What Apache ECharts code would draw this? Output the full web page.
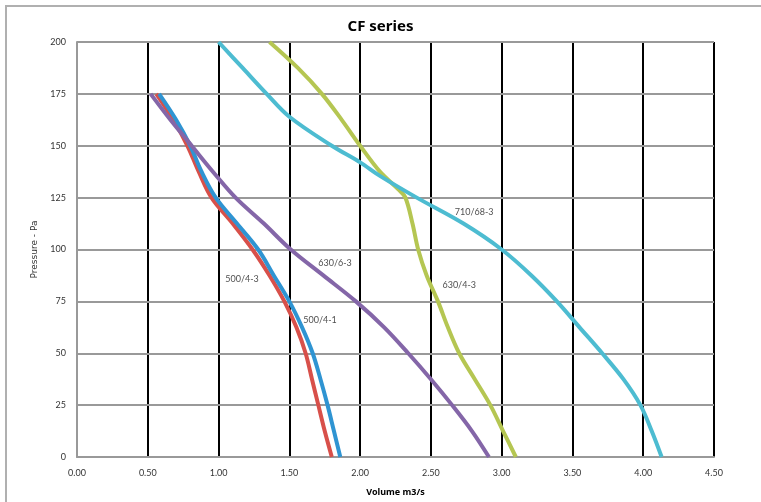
<!DOCTYPE html>
<html>
<head>
<meta charset="utf-8">
<script src="https://cdn.jsdelivr.net/npm/echarts@6/dist/echarts.min.js"></script>
<style>html,body{margin:0;padding:0;background:#fff}#c{width:761px;height:502px}</style>
</head>
<body>
<div id="c"></div>
<script>
// Data: [volume m3/s, pressure Pa]
const s500_4_3 = [[0.56,175],[0.68,162.5],[0.78,150],[0.86,137.5],[0.95,125],[1.10,112.5],[1.24,100],[1.36,87.5],[1.465,75],[1.55,62.5],[1.615,50],[1.66,37.5],[1.705,25],[1.75,12.5],[1.80,0]];
const s500_4_1 = [[0.58,175],[0.70,162.5],[0.80,150],[0.88,137.5],[0.98,125],[1.13,112.5],[1.28,100],[1.39,87.5],[1.50,75],[1.59,62.5],[1.665,50],[1.72,37.5],[1.77,25],[1.815,12.5],[1.86,0]];
const s630_6_3 = [[0.52,175],[0.66,162.5],[0.81,150],[0.96,137.5],[1.12,125],[1.32,112.5],[1.51,100],[1.74,87.5],[1.97,75],[2.17,62.5],[2.34,50],[2.50,37.5],[2.65,25],[2.79,12.5],[2.91,0]];
const s630_4_3 = [[1.36,200],[1.56,187.5],[1.73,175],[1.87,162.5],[2.00,150],[2.14,137.5],[2.27,129],[2.32,125],[2.37,112.5],[2.41,100],[2.47,87.5],[2.55,75],[2.62,62.5],[2.70,50],[2.81,37.5],[2.92,25],[3.01,12.5],[3.10,0]];
const s710_68_3 = [[1.00,200],[1.17,187.5],[1.34,175],[1.50,164],[1.80,150],[2.00,142],[2.14,135.5],[2.40,125],[2.73,112.5],[3.00,100],[3.21,87.5],[3.39,75],[3.55,62.5],[3.71,50],[3.86,37.5],[3.98,25],[4.06,12.5],[4.13,0]];
const seriesNames = ['500/4-3','500/4-1','630/6-3','630/4-3','710/68-3'];
const seriesColors = ['#D8504A','#2F94D2','#8466A8','#B5C652','#4DBCD1'];
const curveLabels = [[1.166,85.7,'500/4-3'],[1.717,66.2,'500/4-1'],[1.823,93.3,'630/6-3'],[2.70,82.9,'630/4-3'],[2.806,118.1,'710/68-3']];
const xTicks = {min:0, max:4.5, interval:0.5};
const yTicks = {min:0, max:200, interval:25};

const allData = [s500_4_3, s500_4_1, s630_6_3, s630_4_3, s710_68_3];
const chart = echarts.init(document.getElementById('c'));
const font = 'Lato, "Open Sans", sans-serif';
const series = allData.map((d,i)=>({
  name: seriesNames[i], type:'line', data:d, smooth:0.35, showSymbol:false, symbol:'none',
  lineStyle:{width:4, color:seriesColors[i]}, itemStyle:{color:seriesColors[i]}, z:5
}));
series.push({
  type:'scatter', data:curveLabels, symbolSize:0, z:6, silent:true,
  label:{show:true, position:'inside', formatter:p=>p.data[2], fontSize:9, color:'#222', fontFamily:font}
});
chart.setOption({
  animation:false,
  backgroundColor:'#fff',
  title:{text:'CF series', left:'center', top:14, textStyle:{fontSize:15, fontWeight:'bold', color:'#000', fontFamily:'"Noto Sans", "Liberation Sans", sans-serif'}},
  graphic:[{type:'rect', shape:{x:6,y:6,width:800,height:600}, style:{fill:'none', stroke:'#b0b0b0', lineWidth:2}, z:-1}],
  grid:{left:77, right:47, top:42, bottom:40},
  xAxis:{type:'value', min:xTicks.min, max:xTicks.max, interval:xTicks.interval,
    name:'Volume m3/s', nameLocation:'middle', nameGap:31,
    nameTextStyle:{fontSize:9, fontWeight:'bold', color:'#000', fontFamily:'"Noto Sans", sans-serif'},
    axisLine:{show:true, lineStyle:{color:'#999', width:2}}, axisTick:{show:false},
    axisLabel:{fontSize:9, color:'#333', margin:12, formatter:v=>v.toFixed(2), fontFamily:font},
    splitLine:{show:true, lineStyle:{color:'#000', width:2}}},
  yAxis:{type:'value', min:yTicks.min, max:yTicks.max, interval:yTicks.interval, z:3,
    name:'Pressure - Pa', nameLocation:'middle', nameGap:34,
    nameTextStyle:{fontSize:9, color:'#333', fontFamily:'"DejaVu Sans", sans-serif'},
    axisLine:{show:true, lineStyle:{color:'#999', width:2}}, axisTick:{show:false},
    axisLabel:{fontSize:9, color:'#333', margin:11, fontFamily:font},
    splitLine:{show:true, lineStyle:{color:'#999', width:2}}},
  series:series
});
</script>
</body>
</html>
